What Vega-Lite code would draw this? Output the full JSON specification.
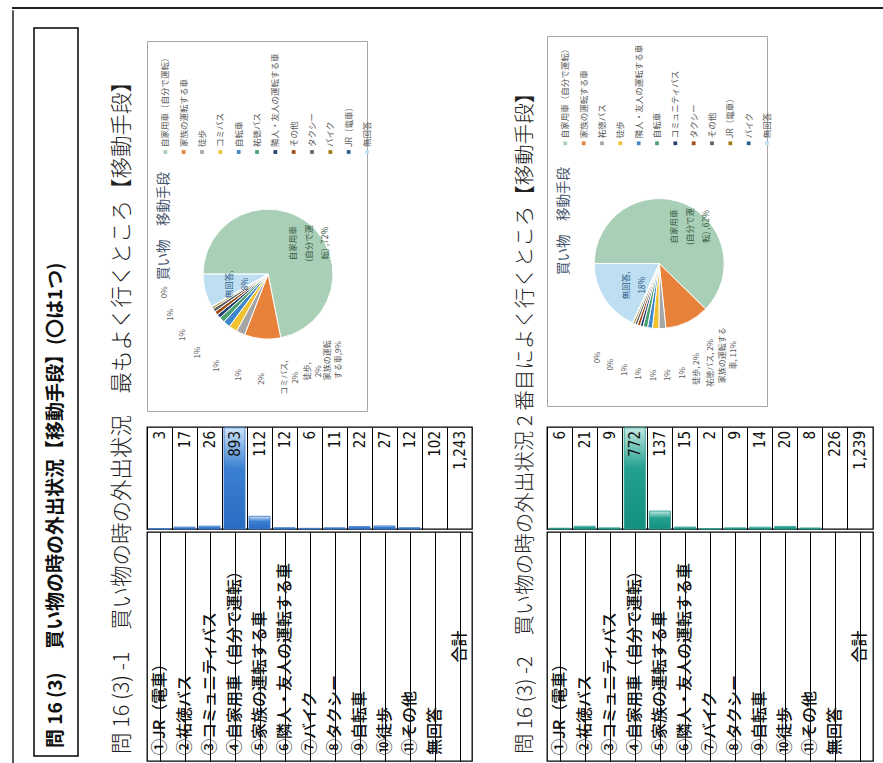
{
  "$schema": "https://vega.github.io/schema/vega-lite/v6.json",
  "padding": {"left": 12, "top": 7, "right": 0, "bottom": 0},
  "background": "white",
  "config": {"view": {"stroke": null}, "font": "Noto Sans CJK JP", "text": {"font": "Noto Sans CJK JP"}},
  "datasets": {
    "t1": [
      {"k": "①JR（電車）", "n": 3},
      {"k": "②祐徳バス", "n": 17},
      {"k": "③コミュニティバス", "n": 26},
      {"k": "④自家用車（自分で運転）", "n": 893},
      {"k": "⑤家族の運転する車", "n": 112},
      {"k": "⑥隣人・友人の運転する車", "n": 12},
      {"k": "⑦バイク", "n": 6},
      {"k": "⑧タクシー", "n": 11},
      {"k": "⑨自転車", "n": 22},
      {"k": "⑩徒歩", "n": 27},
      {"k": "⑪その他", "n": 12},
      {"k": "無回答", "n": 102},
      {"k": "合計", "n": 1243}
    ],
    "t2": [
      {"k": "①JR（電車）", "n": 6},
      {"k": "②祐徳バス", "n": 21},
      {"k": "③コミュニティバス", "n": 9},
      {"k": "④自家用車（自分で運転）", "n": 772},
      {"k": "⑤家族の運転する車", "n": 137},
      {"k": "⑥隣人・友人の運転する車", "n": 15},
      {"k": "⑦バイク", "n": 2},
      {"k": "⑧タクシー", "n": 9},
      {"k": "⑨自転車", "n": 14},
      {"k": "⑩徒歩", "n": 20},
      {"k": "⑪その他", "n": 8},
      {"k": "無回答", "n": 226},
      {"k": "合計", "n": 1239}
    ],
    "p1": [
      {"i": 1, "name": "自家用車（自分で運転）", "n": 893, "inlab": "自家用車\n(自分で運\n転) ,72%"},
      {"i": 2, "name": "家族の運転する車", "n": 112, "inlab": "", "out": "家族の運転\nする車,9%"},
      {"i": 3, "name": "徒歩", "n": 27, "inlab": "", "out": "徒歩,\n2%"},
      {"i": 4, "name": "コミバス", "n": 26, "inlab": "", "out": "コミバス,\n2%"},
      {"i": 5, "name": "自転車", "n": 22, "inlab": "", "out": "2%"},
      {"i": 6, "name": "祐徳バス", "n": 17, "inlab": "", "out": "1%"},
      {"i": 7, "name": "隣人・友人の運転する車", "n": 12, "inlab": "", "out": "1%"},
      {"i": 8, "name": "その他", "n": 12, "inlab": "", "out": "1%"},
      {"i": 9, "name": "タクシー", "n": 11, "inlab": "", "out": "1%"},
      {"i": 10, "name": "バイク", "n": 6, "inlab": "", "out": "1%"},
      {"i": 11, "name": "JR（電車）", "n": 3, "inlab": "", "out": "0%"},
      {"i": 12, "name": "無回答", "n": 102, "inlab": "無回答,\n8%"}
    ],
    "p2": [
      {"i": 1, "name": "自家用車（自分で運転）", "n": 772, "inlab": "自家用車\n(自分で運\n転) ,62%"},
      {"i": 2, "name": "家族の運転する車", "n": 137, "inlab": "", "out": "家族の運転する\n車, 11%"},
      {"i": 3, "name": "祐徳バス", "n": 21, "inlab": "", "out": "祐徳バス, 2%"},
      {"i": 4, "name": "徒歩", "n": 20, "inlab": "", "out": "徒歩, 2%"},
      {"i": 5, "name": "隣人・友人の運転する車", "n": 15, "inlab": "", "out": "1%"},
      {"i": 6, "name": "自転車", "n": 14, "inlab": "", "out": "1%"},
      {"i": 7, "name": "コミュニティバス", "n": 9, "inlab": "", "out": "1%"},
      {"i": 8, "name": "タクシー", "n": 9, "inlab": "", "out": "1%"},
      {"i": 9, "name": "その他", "n": 8, "inlab": "", "out": "1%"},
      {"i": 10, "name": "JR（電車）", "n": 6, "inlab": "", "out": "0%"},
      {"i": 11, "name": "バイク", "n": 2, "inlab": "", "out": "0%"},
      {"i": 12, "name": "無回答", "n": 226, "inlab": "無回答,\n18%"}
    ]
  },
  "spacing": 0,
  "resolve": {"scale": {"x": "independent", "y": "independent", "color": "independent", "theta": "independent"}},
  "vconcat": [
    {"width": 871, "height": 0.01, "view": {"stroke": "#222", "strokeWidth": 2}, "data": {"values": []}, "mark": "point"},
    {
      "spacing": 0,
      "resolve": {"scale": {"x": "independent", "y": "independent", "color": "independent", "theta": "independent"}},
      "hconcat": [
        {"width": 0.01, "height": 752, "view": {"stroke": "#222", "strokeWidth": 1.5}, "data": {"values": []}, "mark": "point"},
        {"width": 19, "height": 1, "data": {"values": []}, "mark": "point"},
        {
          "spacing": 0,
          "vconcat": [
            {"width": 1, "height": 16, "data": {"values": []}, "mark": "point"},
            {
              "width": 44, "height": 728,
              "view": {"stroke": "#000", "strokeWidth": 1.5},
              "data": {"values": [{"t": "問 16 (3)　 買い物の時の外出状況【移動手段】(〇は1つ)"}]},
              "mark": {"type": "text", "angle": 270, "align": "left", "baseline": "middle", "dx": 8, "fontSize": 19, "fontWeight": "bold", "color": "#111"},
              "encoding": {"text": {"field": "t", "type": "nominal"}, "y": {"datum": 0, "type": "quantitative", "scale": {"domain": [0, 1]}, "axis": null}}
            }
          ]
        },
        {"width": 30, "height": 1, "data": {"values": []}, "mark": "point"},
        {
          "width": 28, "height": 744,
          "data": {"values": [{"t": "問 16 (3) -1　買い物の時の外出状況　最もよく行くところ【移動手段】"}]},
          "mark": {"type": "text", "angle": 270, "align": "left", "baseline": "middle", "dx": 1, "fontSize": 21.5, "fontWeight": 300, "color": "#222"},
          "encoding": {"text": {"field": "t", "type": "nominal"}, "y": {"datum": 0, "type": "quantitative", "scale": {"domain": [0, 1]}, "axis": null}}
        },
        {"width": 9, "height": 1, "data": {"values": []}, "mark": "point"},
        {
          "spacing": 0,
          "resolve": {"scale": {"x": "independent", "y": "independent", "color": "independent", "theta": "independent"}},
          "vconcat": [
            {"width": 1, "height": 29, "data": {"values": []}, "mark": "point"},
            {
              "width": 220, "height": 370,
              "view": {"stroke": "#a6a6a6", "strokeWidth": 1},
              "resolve": {"scale": {"theta": "independent", "x": "independent"}},
              "layer": [
                {
                  "data": {"values": [{"t": "買い物　移動手段"}]},
                  "mark": {"type": "text", "angle": 270, "align": "center", "baseline": "middle", "fontSize": 13.5, "color": "#44546a"},
                  "encoding": {
                    "text": {"field": "t", "type": "nominal"},
                    "x": {"datum": 0.075, "type": "quantitative", "scale": {"domain": [0, 1]}, "axis": null},
                    "y": {"datum": 0.5, "type": "quantitative", "scale": {"domain": [0, 1]}, "axis": null}
                  }
                },
                {
                  "data": {"name": "p1"},
                  "mark": {"type": "point", "shape": "square", "filled": true, "size": 14, "opacity": 1},
                  "encoding": {
                    "x": {"field": "name", "type": "nominal", "sort": null, "scale": {"domain": ["自家用車（自分で運転）", "家族の運転する車", "徒歩", "コミバス", "自転車", "祐徳バス", "隣人・友人の運転する車", "その他", "タクシー", "バイク", "JR（電車）", "無回答"], "paddingInner": 0, "paddingOuter": 1.2, "align": 1}, "axis": null},
                    "y": {"datum": 0.7, "type": "quantitative", "scale": {"domain": [0, 1]}, "axis": null},
                    "color": {"field": "name", "type": "nominal", "scale": {"domain": ["自家用車（自分で運転）", "家族の運転する車", "徒歩", "コミバス", "自転車", "祐徳バス", "隣人・友人の運転する車", "その他", "タクシー", "バイク", "JR（電車）", "無回答"], "range": ["#a9cfb6", "#e8823a", "#a5a5a5", "#f2c12e", "#3f87c9", "#4aa06e", "#23406f", "#9e4b16", "#636363", "#9b7a12", "#265f93", "#bddff1"]}, "legend": null}
                  }
                },
                {
                  "data": {"name": "p1"},
                  "mark": {"type": "text", "angle": 270, "align": "left", "baseline": "middle", "dx": 5, "fontSize": 8.5, "color": "#595959"},
                  "encoding": {
                    "x": {"field": "name", "type": "nominal", "sort": null, "scale": {"domain": ["自家用車（自分で運転）", "家族の運転する車", "徒歩", "コミバス", "自転車", "祐徳バス", "隣人・友人の運転する車", "その他", "タクシー", "バイク", "JR（電車）", "無回答"], "paddingInner": 0, "paddingOuter": 1.2, "align": 1}, "axis": null},
                    "y": {"datum": 0.7, "type": "quantitative", "scale": {"domain": [0, 1]}, "axis": null},
                    "text": {"field": "name", "type": "nominal"}
                  }
                },
                {
                  "data": {"name": "p1"},
                  "mark": {"type": "arc", "outerRadius": 65, "stroke": "#ffffff", "strokeWidth": 1},
                  "encoding": {
                    "theta": {"field": "n", "type": "quantitative", "stack": true, "scale": {"range": [-1.5708, 4.7124]}},
                    "order": {"field": "i", "type": "quantitative", "sort": "ascending"},
                    "color": {"field": "name", "type": "nominal", "scale": {"domain": ["自家用車（自分で運転）", "家族の運転する車", "徒歩", "コミバス", "自転車", "祐徳バス", "隣人・友人の運転する車", "その他", "タクシー", "バイク", "JR（電車）", "無回答"], "range": ["#a9cfb6", "#e8823a", "#a5a5a5", "#f2c12e", "#3f87c9", "#4aa06e", "#23406f", "#9e4b16", "#636363", "#9b7a12", "#265f93", "#bddff1"]}, "legend": null},
                    "x": {"datum": 0.55, "type": "quantitative", "scale": {"domain": [0, 1]}, "axis": null},
                    "y": {"datum": 0.37, "type": "quantitative", "scale": {"domain": [0, 1]}, "axis": null}
                  }
                },
                {
                  "data": {"name": "p1"},
                  "mark": {"type": "text", "radius": 40, "angle": 270, "lineBreak": "\n", "fontSize": 8.5, "lineHeight": 16, "align": "center", "baseline": "middle"},
                  "encoding": {
                    "theta": {"field": "n", "type": "quantitative", "stack": true, "scale": {"range": [-1.5708, 4.7124]}},
                    "order": {"field": "i", "type": "quantitative", "sort": "ascending"},
                    "text": {"field": "inlab", "type": "nominal"},
                    "color": {"condition": {"test": "datum.i == 12", "value": "#2f5b8a"}, "value": "#3a5e46"},
                    "x": {"datum": 0.55, "type": "quantitative", "scale": {"domain": [0, 1]}, "axis": null},
                    "y": {"datum": 0.37, "type": "quantitative", "scale": {"domain": [0, 1]}, "axis": null}
                  }
                },
                {
                  "data": {"name": "p1"},
                  "transform": [{"filter": "isValid(datum.out)"}],
                  "mark": {"type": "text", "radius": 105, "angle": 270, "lineBreak": "\n", "fontSize": 8, "lineHeight": 11, "align": "center", "baseline": "middle", "color": "#595959"},
                  "encoding": {
                    "theta": {"field": "i", "type": "quantitative", "stack": null, "scale": {"domain": [2, 11], "range": [2.531, 4.538]}},
                    "text": {"field": "out", "type": "nominal"},
                    "x": {"datum": 0.55, "type": "quantitative", "scale": {"domain": [0, 1]}, "axis": null},
                    "y": {"datum": 0.37, "type": "quantitative", "scale": {"domain": [0, 1]}, "axis": null}
                  }
                }
              ]
            },
            {"width": 1, "height": 14, "data": {"values": []}, "mark": "point"},
            {
              "width": 325, "height": 102,
              "view": {"stroke": "#000", "strokeWidth": 1.3},
              "data": {"name": "t1"},
              "encoding": {
                "x": {"field": "k", "type": "nominal", "sort": null, "scale": {"domain": ["①JR（電車）", "②祐徳バス", "③コミュニティバス", "④自家用車（自分で運転）", "⑤家族の運転する車", "⑥隣人・友人の運転する車", "⑦バイク", "⑧タクシー", "⑨自転車", "⑩徒歩", "⑪その他", "無回答", "合計"], "paddingInner": 0, "paddingOuter": 0}, "axis": {"grid": true, "gridColor": "#000", "gridWidth": 1, "gridOpacity": 1, "bandPosition": 0, "labels": false, "ticks": false, "domain": false, "title": null}}
              },
              "layer": [
                {
                  "transform": [{"filter": {"not": {"field": "k", "oneOf": ["無回答", "合計"]}}}],
                  "mark": {"type": "bar", "width": {"band": 0.84}, "fill": {"gradient": "linear", "x1": 0, "y1": 1, "x2": 0, "y2": 0, "stops": [{"offset": 0, "color": "#2a6cc4"}, {"offset": 0.6, "color": "#3a80d2"}, {"offset": 1, "color": "#cfe4f8"}]}, "stroke": "#3574c8", "strokeWidth": 0.8},
                  "encoding": {"y": {"field": "n", "type": "quantitative", "scale": {"domain": [0, 900], "nice": false}, "axis": null}}
                },
                {
                  "mark": {"type": "text", "angle": 270, "align": "right", "baseline": "middle", "dx": -4, "fontSize": 15, "font": "DejaVu Sans Condensed, Liberation Sans, sans-serif", "color": "#111"},
                  "encoding": {"text": {"field": "n", "type": "quantitative", "format": ","}, "y": {"datum": 900, "type": "quantitative"}}
                }
              ]
            },
            {
              "width": 325, "height": 229,
              "view": {"stroke": "#000", "strokeWidth": 1.3},
              "data": {"name": "t1"},
              "encoding": {
                "x": {"field": "k", "type": "nominal", "sort": null, "scale": {"domain": ["①JR（電車）", "②祐徳バス", "③コミュニティバス", "④自家用車（自分で運転）", "⑤家族の運転する車", "⑥隣人・友人の運転する車", "⑦バイク", "⑧タクシー", "⑨自転車", "⑩徒歩", "⑪その他", "無回答", "合計"], "paddingInner": 0, "paddingOuter": 0}, "axis": {"grid": true, "gridColor": "#000", "gridWidth": 1, "gridOpacity": 1, "bandPosition": 0, "labels": false, "ticks": false, "domain": false, "title": null}}
              },
              "layer": [
                {
                  "transform": [{"filter": "datum.k != '合計'"}],
                  "mark": {"type": "text", "angle": 270, "align": "left", "baseline": "middle", "dx": 6, "fontSize": 16, "fontWeight": 500, "color": "#111"},
                  "encoding": {"text": {"field": "k", "type": "nominal"}, "y": {"datum": 0, "type": "quantitative", "scale": {"domain": [0, 1]}, "axis": null}}
                },
                {
                  "transform": [{"filter": "datum.k == '合計'"}],
                  "mark": {"type": "text", "angle": 270, "align": "center", "baseline": "middle", "fontSize": 16, "fontWeight": 500, "color": "#111"},
                  "encoding": {"text": {"field": "k", "type": "nominal"}, "y": {"datum": 0.5, "type": "quantitative", "scale": {"domain": [0, 1]}, "axis": null}}
                }
              ]
            }
          ]
        },
        {"width": 39, "height": 1, "data": {"values": []}, "mark": "point"},
        {
          "width": 28, "height": 744,
          "data": {"values": [{"t": "問 16 (3) -2　買い物の時の外出状況 2 番目によく行くところ【移動手段】"}]},
          "mark": {"type": "text", "angle": 270, "align": "left", "baseline": "middle", "dx": 1, "fontSize": 20.5, "fontWeight": 300, "color": "#222"},
          "encoding": {"text": {"field": "t", "type": "nominal"}, "y": {"datum": 0, "type": "quantitative", "scale": {"domain": [0, 1]}, "axis": null}}
        },
        {"width": 6, "height": 1, "data": {"values": []}, "mark": "point"},
        {
          "spacing": 0,
          "resolve": {"scale": {"x": "independent", "y": "independent", "color": "independent", "theta": "independent"}},
          "vconcat": [
            {"width": 1, "height": 24, "data": {"values": []}, "mark": "point"},
            {
              "width": 220, "height": 370,
              "view": {"stroke": "#a6a6a6", "strokeWidth": 1},
              "resolve": {"scale": {"theta": "independent", "x": "independent"}},
              "layer": [
                {
                  "data": {"values": [{"t": "買い物　移動手段"}]},
                  "mark": {"type": "text", "angle": 270, "align": "center", "baseline": "middle", "fontSize": 13.5, "color": "#44546a"},
                  "encoding": {
                    "text": {"field": "t", "type": "nominal"},
                    "x": {"datum": 0.075, "type": "quantitative", "scale": {"domain": [0, 1]}, "axis": null},
                    "y": {"datum": 0.5, "type": "quantitative", "scale": {"domain": [0, 1]}, "axis": null}
                  }
                },
                {
                  "data": {"name": "p2"},
                  "mark": {"type": "point", "shape": "square", "filled": true, "size": 14, "opacity": 1},
                  "encoding": {
                    "x": {"field": "name", "type": "nominal", "sort": null, "scale": {"domain": ["自家用車（自分で運転）", "家族の運転する車", "祐徳バス", "徒歩", "隣人・友人の運転する車", "自転車", "コミュニティバス", "タクシー", "その他", "JR（電車）", "バイク", "無回答"], "paddingInner": 0, "paddingOuter": 1.2, "align": 1}, "axis": null},
                    "y": {"datum": 0.71, "type": "quantitative", "scale": {"domain": [0, 1]}, "axis": null},
                    "color": {"field": "name", "type": "nominal", "scale": {"domain": ["自家用車（自分で運転）", "家族の運転する車", "祐徳バス", "徒歩", "隣人・友人の運転する車", "自転車", "コミュニティバス", "タクシー", "その他", "JR（電車）", "バイク", "無回答"], "range": ["#a9cfb6", "#e8823a", "#a5a5a5", "#f2c12e", "#3f87c9", "#4aa06e", "#23406f", "#9e4b16", "#636363", "#9b7a12", "#265f93", "#bddff1"]}, "legend": null}
                  }
                },
                {
                  "data": {"name": "p2"},
                  "mark": {"type": "text", "angle": 270, "align": "left", "baseline": "middle", "dx": 5, "fontSize": 8.5, "color": "#595959"},
                  "encoding": {
                    "x": {"field": "name", "type": "nominal", "sort": null, "scale": {"domain": ["自家用車（自分で運転）", "家族の運転する車", "祐徳バス", "徒歩", "隣人・友人の運転する車", "自転車", "コミュニティバス", "タクシー", "その他", "JR（電車）", "バイク", "無回答"], "paddingInner": 0, "paddingOuter": 1.2, "align": 1}, "axis": null},
                    "y": {"datum": 0.71, "type": "quantitative", "scale": {"domain": [0, 1]}, "axis": null},
                    "text": {"field": "name", "type": "nominal"}
                  }
                },
                {
                  "data": {"name": "p2"},
                  "mark": {"type": "arc", "outerRadius": 65, "stroke": "#ffffff", "strokeWidth": 1},
                  "encoding": {
                    "theta": {"field": "n", "type": "quantitative", "stack": true, "scale": {"range": [-1.5708, 4.7124]}},
                    "order": {"field": "i", "type": "quantitative", "sort": "ascending"},
                    "color": {"field": "name", "type": "nominal", "scale": {"domain": ["自家用車（自分で運転）", "家族の運転する車", "祐徳バス", "徒歩", "隣人・友人の運転する車", "自転車", "コミュニティバス", "タクシー", "その他", "JR（電車）", "バイク", "無回答"], "range": ["#a9cfb6", "#e8823a", "#a5a5a5", "#f2c12e", "#3f87c9", "#4aa06e", "#23406f", "#9e4b16", "#636363", "#9b7a12", "#265f93", "#bddff1"]}, "legend": null},
                    "x": {"datum": 0.51, "type": "quantitative", "scale": {"domain": [0, 1]}, "axis": null},
                    "y": {"datum": 0.385, "type": "quantitative", "scale": {"domain": [0, 1]}, "axis": null}
                  }
                },
                {
                  "data": {"name": "p2"},
                  "mark": {"type": "text", "radius": 40, "angle": 270, "lineBreak": "\n", "fontSize": 8.5, "lineHeight": 16, "align": "center", "baseline": "middle"},
                  "encoding": {
                    "theta": {"field": "n", "type": "quantitative", "stack": true, "scale": {"range": [-1.5708, 4.7124]}},
                    "order": {"field": "i", "type": "quantitative", "sort": "ascending"},
                    "text": {"field": "inlab", "type": "nominal"},
                    "color": {"condition": {"test": "datum.i == 12", "value": "#2f5b8a"}, "value": "#3a5e46"},
                    "x": {"datum": 0.51, "type": "quantitative", "scale": {"domain": [0, 1]}, "axis": null},
                    "y": {"datum": 0.385, "type": "quantitative", "scale": {"domain": [0, 1]}, "axis": null}
                  }
                },
                {
                  "data": {"name": "p2"},
                  "transform": [{"filter": "isValid(datum.out)"}],
                  "mark": {"type": "text", "radius": 112, "angle": 270, "lineBreak": "\n", "fontSize": 8, "lineHeight": 11, "align": "center", "baseline": "middle", "color": "#595959"},
                  "encoding": {
                    "theta": {"field": "i", "type": "quantitative", "stack": null, "scale": {"domain": [2, 11], "range": [2.531, 3.718]}},
                    "text": {"field": "out", "type": "nominal"},
                    "x": {"datum": 0.51, "type": "quantitative", "scale": {"domain": [0, 1]}, "axis": null},
                    "y": {"datum": 0.385, "type": "quantitative", "scale": {"domain": [0, 1]}, "axis": null}
                  }
                }
              ]
            },
            {"width": 1, "height": 19, "data": {"values": []}, "mark": "point"},
            {
              "width": 326, "height": 102,
              "view": {"stroke": "#000", "strokeWidth": 1.3},
              "data": {"name": "t2"},
              "encoding": {
                "x": {"field": "k", "type": "nominal", "sort": null, "scale": {"domain": ["①JR（電車）", "②祐徳バス", "③コミュニティバス", "④自家用車（自分で運転）", "⑤家族の運転する車", "⑥隣人・友人の運転する車", "⑦バイク", "⑧タクシー", "⑨自転車", "⑩徒歩", "⑪その他", "無回答", "合計"], "paddingInner": 0, "paddingOuter": 0}, "axis": {"grid": true, "gridColor": "#000", "gridWidth": 1, "gridOpacity": 1, "bandPosition": 0, "labels": false, "ticks": false, "domain": false, "title": null}}
              },
              "layer": [
                {
                  "transform": [{"filter": {"not": {"field": "k", "oneOf": ["無回答", "合計"]}}}],
                  "mark": {"type": "bar", "width": {"band": 0.84}, "fill": {"gradient": "linear", "x1": 0, "y1": 1, "x2": 0, "y2": 0, "stops": [{"offset": 0, "color": "#14907f"}, {"offset": 0.6, "color": "#23a08f"}, {"offset": 1, "color": "#c4e8e2"}]}, "stroke": "#1f998a", "strokeWidth": 0.8},
                  "encoding": {"y": {"field": "n", "type": "quantitative", "scale": {"domain": [0, 778], "nice": false}, "axis": null}}
                },
                {
                  "mark": {"type": "text", "angle": 270, "align": "right", "baseline": "middle", "dx": -4, "fontSize": 15, "font": "DejaVu Sans Condensed, Liberation Sans, sans-serif", "color": "#111"},
                  "encoding": {"text": {"field": "n", "type": "quantitative", "format": ","}, "y": {"datum": 778, "type": "quantitative"}}
                }
              ]
            },
            {
              "width": 326, "height": 229,
              "view": {"stroke": "#000", "strokeWidth": 1.3},
              "data": {"name": "t2"},
              "encoding": {
                "x": {"field": "k", "type": "nominal", "sort": null, "scale": {"domain": ["①JR（電車）", "②祐徳バス", "③コミュニティバス", "④自家用車（自分で運転）", "⑤家族の運転する車", "⑥隣人・友人の運転する車", "⑦バイク", "⑧タクシー", "⑨自転車", "⑩徒歩", "⑪その他", "無回答", "合計"], "paddingInner": 0, "paddingOuter": 0}, "axis": {"grid": true, "gridColor": "#000", "gridWidth": 1, "gridOpacity": 1, "bandPosition": 0, "labels": false, "ticks": false, "domain": false, "title": null}}
              },
              "layer": [
                {
                  "transform": [{"filter": "datum.k != '合計'"}],
                  "mark": {"type": "text", "angle": 270, "align": "left", "baseline": "middle", "dx": 6, "fontSize": 16, "fontWeight": 500, "color": "#111"},
                  "encoding": {"text": {"field": "k", "type": "nominal"}, "y": {"datum": 0, "type": "quantitative", "scale": {"domain": [0, 1]}, "axis": null}}
                },
                {
                  "transform": [{"filter": "datum.k == '合計'"}],
                  "mark": {"type": "text", "angle": 270, "align": "center", "baseline": "middle", "fontSize": 16, "fontWeight": 500, "color": "#111"},
                  "encoding": {"text": {"field": "k", "type": "nominal"}, "y": {"datum": 0.5, "type": "quantitative", "scale": {"domain": [0, 1]}, "axis": null}}
                }
              ]
            }
          ]
        }
      ]
    },
    {"width": 871, "height": 0.01, "view": {"stroke": "#222", "strokeWidth": 1.5}, "data": {"values": []}, "mark": "point"}
  ]
}
